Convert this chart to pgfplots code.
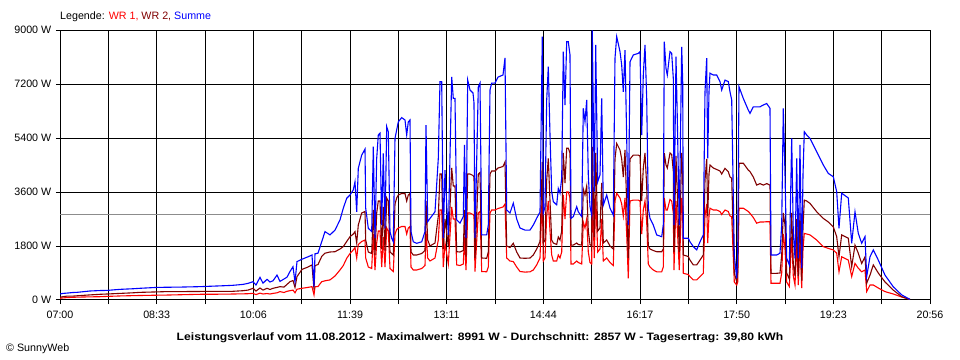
\documentclass[border=0pt]{standalone}
\usepackage{fontspec}
\setmainfont{Liberation Sans}
\usepackage{graphicx}
\usepackage{pgfplots}
\usepackage{pgfplotstable}
\pgfplotsset{compat=1.18}
\definecolor{wrone}{RGB}{255,0,0}
\definecolor{wrtwo}{RGB}{128,0,0}
\definecolor{summe}{RGB}{0,0,255}
\definecolor{avg}{RGB}{140,140,140}

% x = position on the time axis (60 = 07:00, 930 = 20:56), values in W
\pgfplotstableread{
x wr1 wr2 sum
60 55 90 200
63 70 110 220
67 80 130 230
73 90 130 250
77 95 140 255
90 105 170 300
100 110 190 315
107 120 200 320
120 135 220 355
133 145 240 375
140 150 255 390
157 160 270 420
167 165 280 425
180 175 280 430
200 190 285 445
227 195 290 480
233 200 290 490
243 205 310 520
248 210 330 555
253 220 390 610
256 180 300 500
260 230 400 755
263 200 330 560
267 215 390 690
270 200 350 600
273 220 390 640
277 240 420 830
280 280 445 620
284 250 430 700
287 290 520 760
290 310 610 950
293 330 650 1110
295 240 420 600
297 360 780 1280
302 390 1020 1360
308 420 1100 1440
312 445 1170 1500
314 170 350 450
315 440 1150 1540
318 450 1180 1560
321.7 610 1450 1940
325 640 1560 2280
330 670 1600 2170
335 800 1610 2330
340 1000 1700 2670
343.3 1150 1780 3060
346.7 1390 1950 3390
350 1550 2110 3500
353.3 1670 2200 3670
355 1750 2280 3940
356.7 1400 1900 2940
358.3 1850 2500 4390
361.7 1950 2900 4830
365 2000 2950 5030
365.7 1400 2000 3060
368.3 1100 1600 2390
371.7 1050 1550 2280
373.3 2200 3000 5110
375 1000 1500 2060
376.7 1900 2900 4720
378.3 2300 3300 5500
380 2300 3300 5560
381.7 1100 1700 2500
383.3 2100 3100 4890
385 1100 1650 2390
386.7 2400 3400 5780
388.3 2300 3300 5610
390 1050 1600 2280
391.7 1000 1550 2060
393.3 950 1500 1940
395 2200 3200 5390
396.7 2350 3400 5670
398.3 2400 3500 5940
401.7 2450 3550 6080
405 2450 3550 6000
406.7 2200 3300 5500
408.3 2400 3500 5940
410 2450 3550 6000
411 1100 1600 2280
413.3 1000 1500 1940
416.7 1000 1500 1890
421.7 1050 1550 1940
425 1150 1650 2280
426 2300 3300 5830
427.7 1400 2000 2610
430 1300 1800 2720
435 1400 1900 2940
438.3 2000 2800 4720
440 3000 4200 7280
441.7 3000 4200 7280
443.3 1100 1700 2060
445 1900 2700 4330
448.3 1200 1800 2170
451.7 3100 4400 7440
453.3 2700 3800 6720
455 2700 3800 6720
456.7 1170 1610 2670
460 1150 1600 2560
463.3 1200 1650 2780
464.5 2100 3000 5170
466 1000 1450 2070
467.7 2900 4200 7330
470 2900 4200 7000
473 2850 4150 6900
474 2800 4100 6570
475 950 1400 2070
478.3 2900 4200 7100
480 2950 4250 7230
481.7 950 1400 2170
486.7 940 1390 2170
488.3 1100 1600 2500
490 2900 4200 7000
491.7 3000 4300 7230
495 3000 4300 7230
498 3050 4400 7430
503 3100 4450 7500
505 3200 4600 8070
506.7 1400 1800 3000
510 1300 1750 2900
513.3 1280 1890 3230
516.7 1100 1600 2700
520 950 1400 2400
525 930 1390 2330
530 940 1400 2330
533.3 1000 1500 2500
536.7 1170 1700 2730
540 1400 1950 2930
542.3 3600 4600 8780
543.3 1300 1900 2890
545 1400 2000 3110
546.7 2800 4000 6670
548.3 3300 4720 7780
550 2300 3300 5500
551.7 1500 2000 3610
553.3 1300 1900 3280
556.7 1300 1850 3170
558.3 1500 2100 3720
560 1400 2000 3560
561.7 1600 2300 4060
563.3 3500 4900 8280
565 2700 3900 6500
566.7 3600 5060 8610
568.3 3600 5060 8610
570 3400 4900 8170
571 1200 1830 2720
573.3 1200 1830 2780
576.7 1300 1900 3110
578.3 1250 1850 2940
581.7 1200 1830 2780
583.3 2600 3700 6390
585 2400 3500 5940
586.7 2700 3800 6670
588.3 1600 2300 4170
590 1250 1850 3110
591.7 1200 1800 2830
592.3 3700 5100 8991
594.3 1400 2100 3610
595.7 3500 4900 8500
597.7 1600 2300 3940
600 1700 2400 4170
601.7 2700 3900 6720
603.3 1300 1900 3160
606.7 1400 2000 3500
610 1250 1800 3060
613.3 1150 1700 2830
615 3300 4700 8060
616.7 3560 5220 8780
620 3400 5000 8280
621.7 3200 4700 7830
623.3 2800 4100 6940
625 3400 5000 8330
626.7 2200 3200 5390
628.3 720 1400 2500
630 3300 4700 7940
633.3 3330 4830 8170
638.3 3330 4830 8220
640 3300 4800 8280
641.7 2200 3300 5500
643.3 3000 4400 7500
645 3300 4900 8500
646.7 2600 3800 6720
648.3 1200 1800 3060
650 1100 1700 2720
653.3 1000 1650 2500
656.7 940 1610 2170
661.7 940 1610 2110
663.3 1100 1700 2500
664.3 3400 4900 8610
666 3000 4500 7720
667.3 3000 4400 7500
670 3350 4900 8280
671.7 3300 4850 8220
673.3 2900 4300 7390
674 1000 1600 2500
676 3300 4800 8110
677.3 2400 3600 6060
679.3 1000 1600 2500
681.7 3400 4900 8440
682.7 2900 4300 7280
683.3 890 1500 2060
688.3 850 1450 2060
690 780 1330 1940
693.3 670 1170 1780
696.7 670 1170 1670
700 780 1330 1940
703.3 890 1500 2170
705 2800 4000 6940
706.7 3200 4700 8060
707.7 1900 2800 4720
709 2800 4200 6940
710 3060 4500 7560
713.3 3000 4400 7500
716.7 3000 4350 7500
720 2950 4300 7280
721.7 2850 4200 7000
725 3000 4390 7330
728.3 2950 4280 7280
730 2800 4100 6940
731.7 2780 4060 6670
734.3 600 900 1500
736.7 500 610 720
737.7 600 900 1500
739 3060 4560 7110
743.3 3060 4560 6720
748.3 2950 4330 6330
750 2890 4280 6220
753.3 2750 4100 6440
756.7 2560 3830 6440
760 2600 3880 6440
763.3 2600 3830 6500
766.7 2610 3880 6550
770 2610 3830 6390
771 560 890 1500
776.7 560 890 1500
780 560 900 1560
781.7 900 1500 2500
783.3 2200 2900 6390
785 1700 2500 4220
786.7 600 900 1390
789.3 450 700 1170
791.7 2100 2900 5390
793.3 800 1200 2260
795 500 800 1390
796.7 1900 2700 4720
798.3 500 800 1390
800 2000 2900 5170
801.7 400 650 1060
803 1700 2400 4170
804.3 2220 3330 5610
806.7 2200 3300 5500
810 2170 3220 5390
816.7 2000 2940 4940
823.3 1780 2720 4500
828.3 1720 2600 4220
833.3 1670 2440 4110
836.7 1560 2110 3610
839 940 1440 2390
841.7 1440 2170 3560
848.3 1330 2060 3400
851.7 780 1110 1890
855 1220 1830 2940
858.3 1060 1560 2220
861.7 940 1220 1890
865 1000 1440 2110
866.7 280 560 780
870 500 830 1440
873.3 500 1170 1670
878.3 400 900 1330
885 280 600 830
893.3 200 330 440
901.7 100 110 170
910 20 20 20
}\datatable

\begin{document}
\fontsize{10.7bp}{12bp}\selectfont
\begin{tikzpicture}
\useasboundingbox (0,0) rectangle (960bp,360bp);
\begin{axis}[
  at={(60bp,60bp)}, anchor=south west,
  scale only axis, width=870bp, height=270bp,
  xmin=60, xmax=930, ymin=0, ymax=9000,
  axis line style={black, line width=1bp},
  grid=major, grid style={black, line width=1bp},
  xtick={60,108.333,156.667,205,253.333,301.667,350,398.333,446.667,495,543.333,591.667,640,688.333,736.667,785,833.333,881.667,930},
  xticklabels={\mbox{07:00},,\mbox{08:33},,\mbox{10:06},,\mbox{11:39},,\mbox{13:11},,\mbox{14:44},,\mbox{16:17},,\mbox{17:50},,\mbox{19:23},,\mbox{20:56}},
  ytick={0,1800,3600,5400,7200,9000},
  yticklabels={\mbox{0 W},\mbox{1800 W},\mbox{3600 W},\mbox{5400 W},\mbox{7200 W},\mbox{9000 W}},
  tick align=outside, major tick length=4bp,
  xtick pos=bottom, ytick pos=left,
  tick style={black, line width=1bp},
  ticklabel style={font=\fontsize{10.7bp}{12bp}\selectfont},
  yticklabel style={anchor=east, xshift=-1bp},
  xticklabel style={yshift=-3bp},
]
\addplot[avg, line width=1bp, forget plot] coordinates {(60,2857) (930,2857)};
\addplot[wrone, line width=1.1bp, sharp plot] table[x=x, y=wr1] {\datatable};
\addplot[wrtwo, line width=1.1bp, sharp plot] table[x=x, y=wr2] {\datatable};
\addplot[summe, line width=1.1bp, sharp plot] table[x=x, y=sum] {\datatable};
\end{axis}
\node[anchor=west, inner sep=0pt] at (60bp,343bp) {Legende: \textcolor{wrone}{WR 1,} \textcolor{wrtwo}{WR 2,} \textcolor{summe}{Summe}};
\node[inner sep=0pt] at (480bp,22bp) {\scalebox{1.135}[1]{\bfseries Leistungsverlauf vom 11.08.2012 - Maximalwert: 8991 W - Durchschnitt: 2857 W - Tagesertrag: 39,80 kWh}};
\node[anchor=west, inner sep=0pt] at (6bp,11bp) {© SunnyWeb};
\end{tikzpicture}
\end{document}
